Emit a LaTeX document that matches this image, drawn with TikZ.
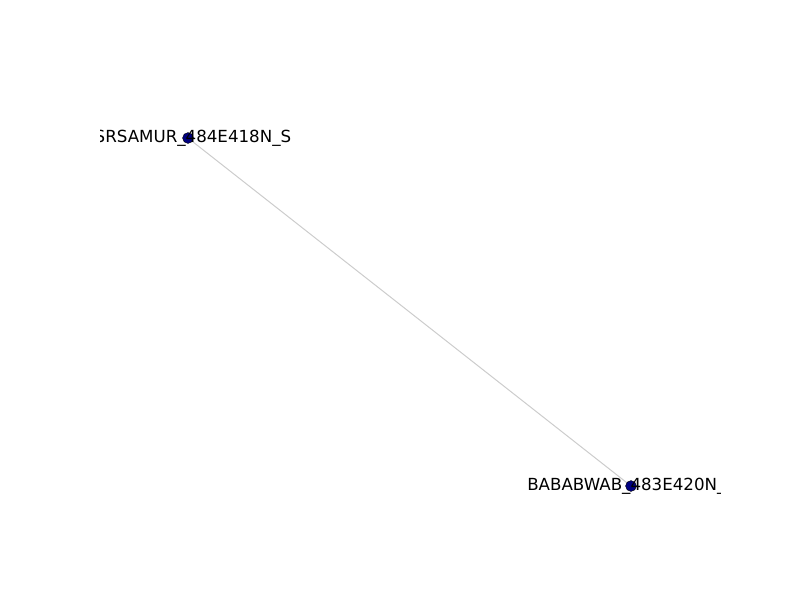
\documentclass[tikz,border=0pt]{standalone}
\usepackage{fontspec}
\setmainfont{DejaVu Sans}
\definecolor{nodefill}{RGB}{0,0,128}
\definecolor{edgegray}{RGB}{204,204,204}
\begin{document}
\begin{tikzpicture}[x=0.72pt,y=-0.72pt,
  gnode/.style={circle,fill=nodefill,draw=black,line width=0.3pt,minimum size=7.8pt,inner sep=0pt},
  glabel/.style={inner sep=0pt,font=\fontsize{12}{14}\selectfont,text=black},
  gedge/.style={draw=edgegray,line width=0.72pt}]
\useasboundingbox (0,0) rectangle (800,600);
\coordinate (pa) at (188,138);
\coordinate (pb) at (631,486);
\draw[gedge] (pa) -- (pb);
\node[gnode] (a) at (pa) {};
\node[gnode] (b) at (pb) {};
\begin{scope}
\clip (100,0) rectangle (720,600);
\node[glabel,anchor=east] (la) at (291.5,138.5) {SRSAMUR\_484E418N\_S};
\node[glabel,anchor=west] (lb) at (527,486.5) {BABABWAB\_483E420N\_};
\end{scope}
\end{tikzpicture}
\end{document}
